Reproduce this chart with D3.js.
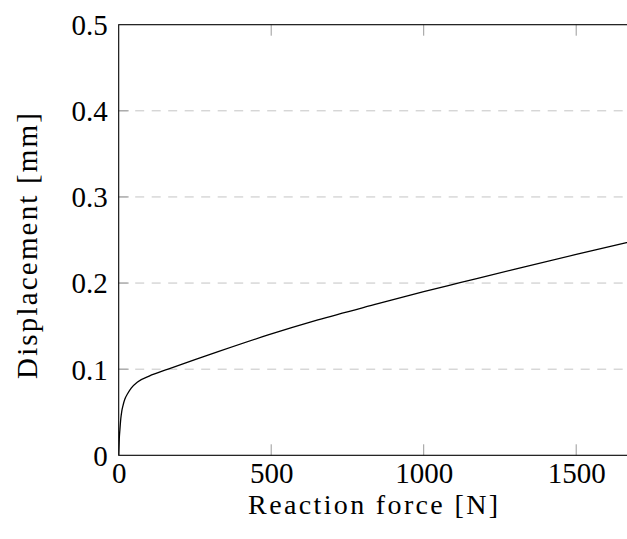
<!DOCTYPE html>
<html>
<head>
<meta charset="utf-8">
<script src="https://cdn.jsdelivr.net/npm/d3@7"></script>
<style>
  html, body { margin: 0; padding: 0; background: #fff; overflow: hidden; }
  svg { display: block; }
  text { font-family: "Liberation Serif", "DejaVu Serif", serif; fill: #000; }
</style>
</head>
<body>
<svg id="chart" width="627" height="539"></svg>
<script>
// Data
const forceN = [0, 2, 4, 7, 10, 15, 20, 30, 41, 63, 100, 162, 250, 326, 490, 653, 850, 1000, 1119, 1300, 1500, 1665, 1700];
const displacementMm = [0, 0.02, 0.03, 0.043, 0.051, 0.059, 0.065, 0.072, 0.078, 0.0855, 0.092, 0.100, 0.111, 0.1203, 0.1397, 0.1572, 0.1760, 0.1900, 0.2004, 0.2162, 0.2332, 0.2469, 0.2497];
const xTicks = [0, 500, 1000, 1500];
const yTicks = [0, 0.1, 0.2, 0.3, 0.4, 0.5];
const yGrid = [0.1, 0.2, 0.3, 0.4];
const xLabel = "Reaction force [N]";
const yLabel = "Displacement [mm]";

const FONT = '"Liberation Serif", "DejaVu Serif", serif';
const svg = d3.select("#chart");
const pL = 118.7, pT = 24.7, pB = 455.3, pR = 628.5;

const x = d3.scaleLinear().domain([0, 1500]).range([pL, 576.2]);
const y = d3.scaleLinear().domain([0, 0.5]).range([pB, pT]);

// grid
svg.append("g").selectAll("line").data(yGrid).join("line")
  .attr("x1", pL).attr("x2", pR)
  .attr("y1", d => y(d)).attr("y2", d => y(d))
  .attr("stroke", "#c4c4c4").attr("stroke-width", 1)
  .attr("stroke-dasharray", "9,7.5");

// clip
svg.append("clipPath").attr("id", "clip").append("rect")
  .attr("x", pL).attr("y", pT).attr("width", pR - pL).attr("height", pB - pT);

// curve
const pts = forceN.map((f, i) => [f, displacementMm[i]]);
svg.append("path").datum(pts)
  .attr("clip-path", "url(#clip)")
  .attr("fill", "none").attr("stroke", "#000").attr("stroke-width", 1.3)
  .attr("stroke-linejoin", "round")
  .attr("d", d3.line().x(d => x(d[0])).y(d => y(d[1])).curve(d3.curveMonotoneX));

// ticks (gray, inward)
const tickLen = 11;
const tc = "#9a9a9a";
svg.append("g").selectAll("line").data(xTicks.filter(d => d > 0)).join("line")
  .attr("x1", d => x(d)).attr("x2", d => x(d))
  .attr("y1", pB).attr("y2", pB - tickLen)
  .attr("stroke", tc).attr("stroke-width", 1);
svg.append("g").selectAll("line").data(xTicks.filter(d => d > 0)).join("line")
  .attr("x1", d => x(d)).attr("x2", d => x(d))
  .attr("y1", pT).attr("y2", pT + tickLen)
  .attr("stroke", tc).attr("stroke-width", 1);
svg.append("g").selectAll("line").data(yGrid).join("line")
  .attr("x1", pL).attr("x2", pL + 10)
  .attr("y1", d => y(d)).attr("y2", d => y(d))
  .attr("stroke", tc).attr("stroke-width", 1);

// frame
svg.append("rect")
  .attr("x", pL).attr("y", pT).attr("width", pR - pL).attr("height", pB - pT)
  .attr("fill", "none").attr("stroke", "#000").attr("stroke-width", 1.1);

// axis tick labels via d3 axes (lines hidden)
const xAxis = svg.append("g").attr("transform", `translate(0,${pB})`)
  .call(d3.axisBottom(x).tickValues(xTicks).tickSize(0).tickPadding(0).tickFormat(d3.format("d")))
  .attr("font-family", FONT).attr("font-size", 29);
xAxis.select(".domain").remove();
xAxis.selectAll("text").attr("dy", null).attr("y", 27.5)
  .attr("font-family", FONT).attr("font-size", 29).attr("fill", "#000");

const yAxis = svg.append("g").attr("transform", `translate(${pL},0)`)
  .call(d3.axisLeft(y).tickValues(yTicks).tickSize(0).tickPadding(0)
    .tickFormat(d => d === 0 ? "0" : d3.format(".1f")(d)))
  .attr("font-family", FONT).attr("font-size", 29);
yAxis.select(".domain").remove();
yAxis.selectAll("text").attr("x", -11).attr("dy", "0.34em")
  .attr("font-family", FONT).attr("font-size", 29).attr("fill", "#000");

// axis titles
svg.append("text").attr("x", (pL + pR) / 2 - 0.5).attr("y", 514)
  .attr("text-anchor", "middle").attr("font-family", FONT).attr("font-size", 28)
  .attr("textLength", 250).attr("lengthAdjust", "spacing").text(xLabel);
svg.append("text")
  .attr("transform", `translate(37,246) rotate(-90)`)
  .attr("text-anchor", "middle").attr("font-family", FONT).attr("font-size", 29)
  .attr("textLength", 266).attr("lengthAdjust", "spacing").text(yLabel);
</script>
</body>
</html>
